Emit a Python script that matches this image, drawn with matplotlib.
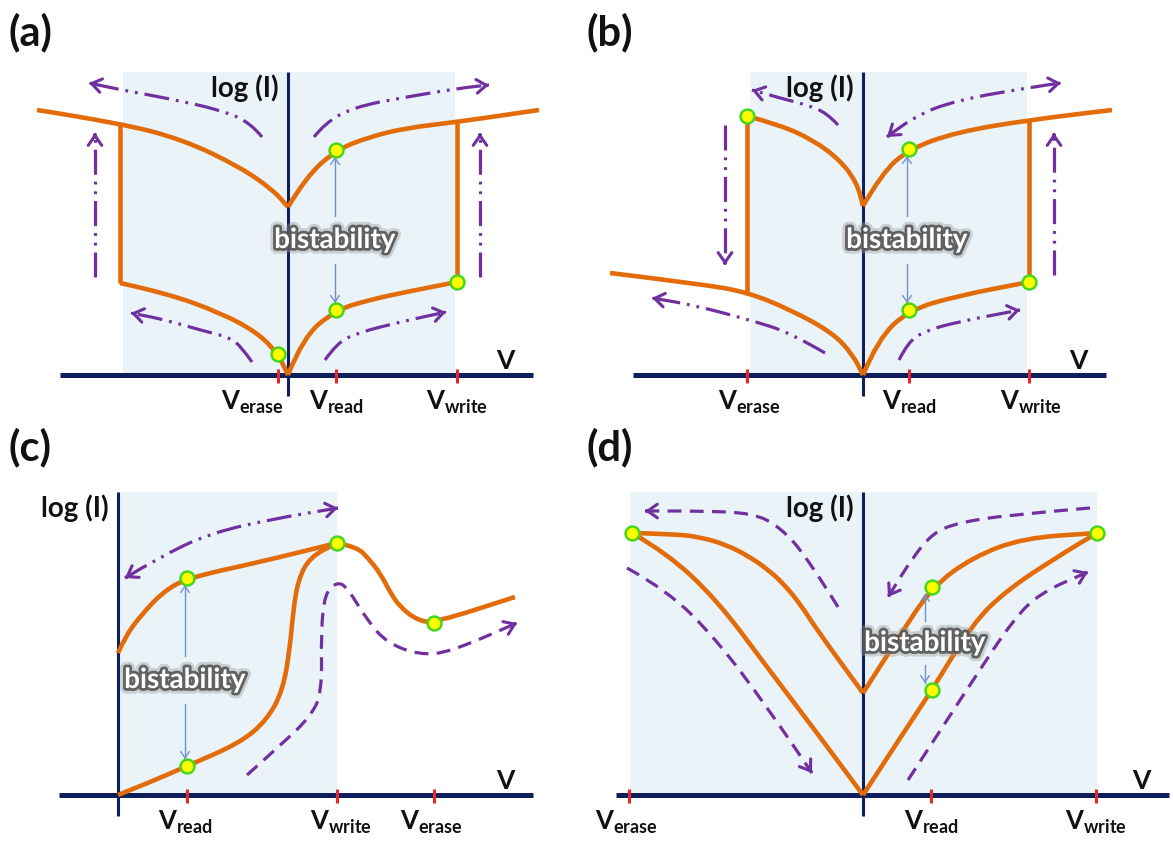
import matplotlib
matplotlib.use("Agg")
import matplotlib.pyplot as plt
import matplotlib.patheffects as pe
from matplotlib.path import Path
from matplotlib.patches import PathPatch, Rectangle

plt.rcParams['font.family'] = ['Lato', 'DejaVu Sans']
plt.rcParams['mathtext.fontset'] = 'custom'
plt.rcParams['mathtext.rm'] = 'Lato'
plt.rcParams['mathtext.bf'] = 'Lato:bold'
plt.rcParams['lines.scale_dashes'] = False

W, H = 1173, 841
NAVY = '#0E1F5B'
ORANGE = '#E36C0A'
PURPLE = '#7030A0'
SHADE = '#EAF3F8'
RED = '#E8262B'
BLUE = '#6F93C9'

# ---- panel (a): values in (V, log I) units
A_TICK_NAMES = ['erase', 'read', 'write']
A_TICK_V = [-10, 48, 169]
A_HIGH_L = [(-251, 265), (-168, 252), (-104, 235), (-48, 208), (-15, 185), (0, 168)]
A_HIGH_R = [(0, 168), (18, 198), (48, 225), (81, 238), (118, 247), (169, 253), (251, 265)]
A_LOW_L = [(-168, 92), (-122, 82), (-67, 62), (-30, 42), (-10, 21), (0, 0)]
A_LOW_R = [(0, 0), (15, 38), (48, 65), (81, 75), (118, 83), (169, 93)]
A_JUMPS = [[(-168, 252), (-168, 92)], [(169, 253), (169, 93)]]
A_DOTS = [(48, 225), (48, 65), (169, 93), (-10, 21)]
A_ARROWS = [
    [(-26, 238), (-37, 252), (-67, 265), (-122, 277), (-166, 285), (-199, 292)],
    [(26, 238), (37, 252), (66, 268), (118, 278), (173, 287), (201, 290)],
    [(-193, 98), (-193, 242)],
    [(192, 98), (192, 242)],
    [(-36, 13), (-48, 30), (-60, 38), (-88, 45), (-122, 55), (-157, 62)],
    [(37, 15), (49, 32), (69, 42), (112, 53), (158, 63)],
]
A_DOUBLE = [False, False, False, False, False, False]

# ---- panel (b)
B_TICK_NAMES = ['erase', 'read', 'write']
B_TICK_V = [-116, 46, 166]
B_HIGH_L = [(-116, 259), (-83, 250), (-50, 235), (-23, 215), (-6, 192), (0, 169)]
B_HIGH_R = [(0, 169), (19, 202), (46, 226), (94, 243), (166, 255), (249, 265)]
B_LOW_L = [(-253, 102), (-163, 91), (-116, 83), (-72, 65), (-30, 42), (-10, 20), (0, 0)]
B_LOW_R = [(0, 0), (15, 36), (46, 65), (94, 79), (166, 93)]
B_JUMPS = [[(-116, 259), (-116, 83)], [(166, 255), (166, 93)]]
B_DOTS = [(-116, 259), (46, 226), (46, 65), (166, 93)]
B_ARROWS = [
    [(-25, 250), (-36, 262), (-56, 270), (-83, 277), (-111, 285)],
    [(24, 238), (49, 258), (94, 275), (170, 288), (198, 292)],
    [(-138, 250), (-138, 110)],
    [(191, 100), (191, 242)],
    [(-38, 22), (-72, 42), (-113, 55), (-170, 70), (-211, 77)],
    [(36, 15), (45, 33), (62, 44), (94, 53), (157, 65)],
]
B_DOUBLE = [False, True, False, False, False, False]

# ---- panel (c)
C_TICK_NAMES = ['read', 'write', 'erase']
C_TICK_V = [69, 219, 316]
C_HIGH = [(0, 142), (8, 160), (25, 182), (45, 203), (69, 217), (142, 233), (219, 252)]
C_LOW = [(0, 0), (35, 14), (69, 29), (122, 52), (149, 75), (165, 105), (172, 148),
         (175, 182), (180, 215), (192, 238), (219, 252)]
C_BUMP = [(219, 252), (239, 248), (250, 237), (262, 222), (272, 203), (282, 188),
          (299, 175), (316, 172), (397, 198)]
C_DOTS = [(69, 217), (69, 29), (219, 252), (316, 172)]
C_ARROW_TOP = [(7, 217), (40, 237), (92, 262), (160, 277), (220, 287)]
C_ARROW_DASH = [(129, 20), (165, 52), (192, 78), (204, 102), (203, 165), (207, 202),
                (219, 213), (229, 208), (249, 175), (269, 152), (302, 140), (332, 143),
                (399, 172)]

# ---- panel (d)
D_TICK_NAMES = ['erase', 'read', 'write']
D_TICK_V = [-234, 68, 233]
D_HIGH_L = [(-231, 262), (-190, 261), (-163, 258), (-136, 250), (-113, 238), (-96, 226),
            (-80, 212), (-62, 190), (-46, 165), (0, 102)]
D_LOW_L = [(-231, 262), (-196, 242), (-146, 195), (-96, 128), (-46, 62), (0, 0)]
D_HIGH_R = [(0, 102), (35, 157), (69, 208), (110, 238), (160, 257), (234, 262)]
D_LOW_R = [(0, 0), (37, 57), (69, 105), (110, 172), (144, 205), (194, 238), (234, 262)]
D_DOTS = [(-231, 262), (234, 262), (69, 208), (69, 105)]
D_ARROWS = [
    [(-25, 188), (-56, 238), (-83, 268), (-110, 282), (-163, 284), (-218, 284)],
    [(-236, 227), (-196, 205), (-146, 155), (-96, 88), (-51, 22)],
    [(227, 287), (144, 280), (94, 272), (70, 262), (50, 238), (25, 198)],
    [(45, 15), (110, 115), (150, 175), (177, 202), (225, 223)],
]

DASHDOT = (0, (18, 5, 2, 5, 2, 5))
DASHED = (0, (10, 6))


def smooth(points):
    verts = [points[0]]
    codes = [Path.MOVETO]
    for i in range(1, len(points) - 1):
        p, q = points[i], points[i + 1]
        verts += [p, ((p[0] + q[0]) / 2, (p[1] + q[1]) / 2)]
        codes += [Path.CURVE3, Path.CURVE3]
    verts.append(points[-1])
    codes.append(Path.LINETO)
    return Path(verts, codes)


def curve(ax, pts, color=ORANGE, lw=3.3, ls='-', z=3):
    ax.add_patch(PathPatch(smooth(pts), fill=False, edgecolor=color, lw=lw,
                           linestyle=ls, joinstyle='round', capstyle='butt', zorder=z))


def head(ax, tip, prev, color=PURPLE, lw=2.2, scale=14):
    dx, dy = tip[0] - prev[0], tip[1] - prev[1]
    n = (dx * dx + dy * dy) ** 0.5
    start = (tip[0] - 2 * dx / n, tip[1] - 2 * dy / n)
    ax.annotate('', xy=tip, xytext=start,
                arrowprops=dict(arrowstyle='->,head_length=0.5,head_width=0.35',
                                color=color, lw=lw, shrinkA=0, shrinkB=0,
                                mutation_scale=scale), zorder=4)


def arrow(ax, pts, ls, double=False):
    curve(ax, pts, color=PURPLE, lw=2.3, ls=ls, z=3)
    head(ax, pts[-1], pts[-2])
    if double:
        head(ax, pts[0], pts[1])


def panel(ox, oy, shade, xaxis, ticks, names, vlab):
    ax = fig.add_axes([0, 0, 1, 1])
    ax.set_xlim(-ox, W - ox)
    ax.set_ylim(oy - H, oy)
    ax.axis('off')
    ax.patch.set_alpha(0)
    ax.add_patch(Rectangle((shade[0], 0), shade[1] - shade[0], 303,
                           facecolor=SHADE, edgecolor='none', zorder=0))
    ax.plot(xaxis, [0, 0], color=NAVY, lw=3.6, solid_capstyle='butt', zorder=2)
    ax.plot([0, 0], [303, -21], color=NAVY, lw=2.2, solid_capstyle='butt', zorder=2)
    for v, name, off in zip(ticks, names, vlab):
        ax.plot([v, v], [-8, 6], color=RED, lw=2.2, solid_capstyle='butt', zorder=4)
        ax.text(v + off, -35, r'$\mathbf{V_{%s}}$' % name, ha='center', va='baseline',
                fontsize=18.5, color='#111111', zorder=6)
    ax.text(-9, 278, 'log (I)', ha='right', va='baseline', fontsize=20,
            fontweight='bold', color='#111111', zorder=6)
    ax.text(xaxis[1] - 28, 14, 'V', ha='center', va='center', fontsize=19,
            fontweight='bold', color='#111111', zorder=6)
    return ax


def dots(ax, pts):
    ax.plot([p[0] for p in pts], [p[1] for p in pts], 'o', ms=10, mfc='#FFFF00',
            mec='#47D61C', mew=1.8, zorder=5, ls='none')


def bistab(ax, x, y, top, bottom, gap):
    ax.text(x, y, 'bistability', ha='center', va='center', color='white', fontsize=20,
            fontweight='bold', zorder=7,
            path_effects=[pe.Stroke(linewidth=8, foreground='#9a9a9a', alpha=0.4),
                          pe.Stroke(linewidth=4, foreground='#555555', alpha=0.9),
                          pe.Normal()])
    for a, b in [((x, y + gap), (x, top - 7)), ((x, y - gap), (x, bottom + 7))]:
        ax.plot([a[0], b[0]], [a[1], b[1]], color=BLUE, lw=1, zorder=4)
        head(ax, b, a, color=BLUE, lw=1, scale=9)


fig = plt.figure(figsize=(W / 100, H / 100), dpi=100)
fig.patch.set_facecolor('white')

for txt, px, py in [('(a)', 8, 12), ('(b)', 586, 12), ('(c)', 9, 427), ('(d)', 586, 427)]:
    fig.text(px / W, 1 - py / H, txt, ha='left', va='top', fontsize=30,
             fontweight='bold', color='#111111')

# (a)
ax = panel(288, 375, (-165, 167), [-228, 245], A_TICK_V, A_TICK_NAMES, [-26, 0, 0])
for c in [A_HIGH_L, A_HIGH_R, A_LOW_L, A_LOW_R] + A_JUMPS:
    curve(ax, c)
for pts, dbl in zip(A_ARROWS, A_DOUBLE):
    arrow(ax, pts, DASHDOT, dbl)
dots(ax, A_DOTS)
bistab(ax, 47, 135, A_DOTS[0][1], A_DOTS[1][1], 24)

# (b)
ax = panel(863, 375, (-113, 164), [-230, 243], B_TICK_V, B_TICK_NAMES, [2, 0, 2])
for c in [B_HIGH_L, B_HIGH_R, B_LOW_L, B_LOW_R] + B_JUMPS:
    curve(ax, c)
for pts, dbl in zip(B_ARROWS, B_DOUBLE):
    arrow(ax, pts, DASHDOT, dbl)
dots(ax, B_DOTS)
bistab(ax, 44, 135, B_DOTS[1][1], B_DOTS[2][1], 24)

# (c)
ax = panel(118, 795, (0, 219), [-59, 415], C_TICK_V, C_TICK_NAMES, [-2, 4, -3])
for c in [C_HIGH, C_LOW, C_BUMP]:
    curve(ax, c)
arrow(ax, C_ARROW_TOP, DASHDOT, True)
arrow(ax, C_ARROW_DASH, DASHED)
dots(ax, C_DOTS)
bistab(ax, 67, 115, C_DOTS[0][1], C_DOTS[1][1], 24)

# (d)
ax = panel(863, 795, (-233, 234), [-247, 306], D_TICK_V, D_TICK_NAMES, [-3, 0, 0])
for c in [D_HIGH_L, D_LOW_L, D_HIGH_R, D_LOW_R]:
    curve(ax, c)
for pts in D_ARROWS:
    arrow(ax, pts, DASHED)
dots(ax, D_DOTS)
bistab(ax, 62, 152, D_DOTS[2][1], D_DOTS[3][1], 22)

fig.savefig('out.png', dpi=100)
